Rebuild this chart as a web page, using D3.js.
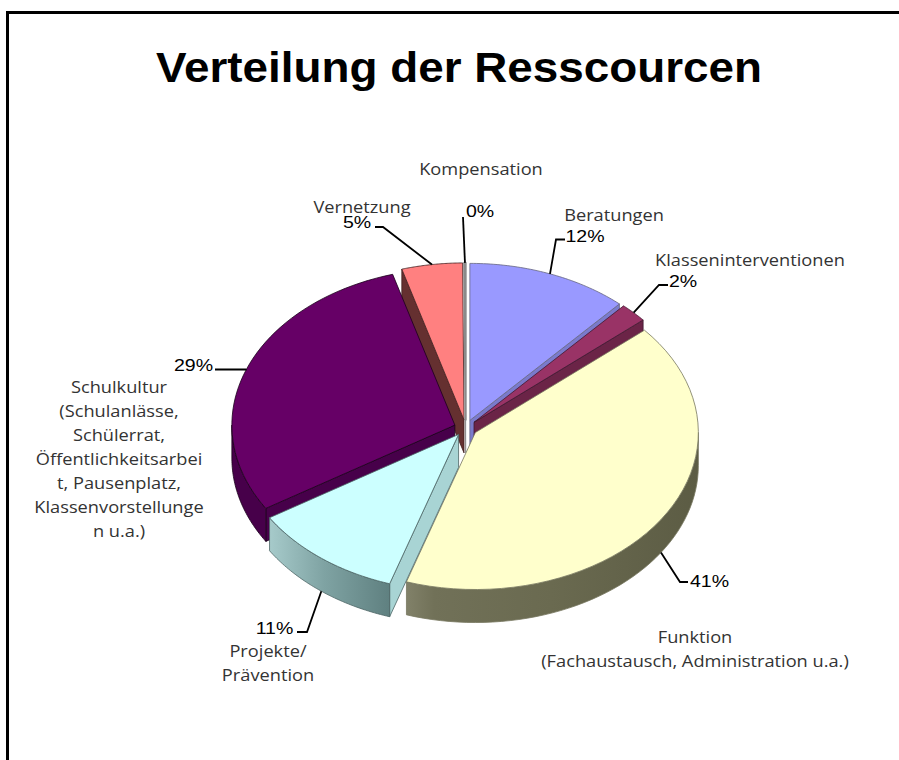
<!DOCTYPE html>
<html><head><meta charset="utf-8">
<script src="https://cdnjs.cloudflare.com/ajax/libs/d3/7.9.0/d3.min.js"></script>
<style>html,body{margin:0;padding:0;background:#fff;overflow:hidden}svg{display:block}</style>
</head><body>
<svg id="chart" width="899" height="760"></svg>
<script>
const title = "Verteilung der Resscourcen";
const categories = ["Beratungen","Klasseninterventionen","Funktion","Projekte","Schulkultur","Vernetzung","Kompensation"];
const values = [11.7, 2.0, 41.3, 11.1, 29.4, 4.4, 0.1];
const percentLabels = ["12%","2%","41%","11%","29%","5%","0%"];
const categoryLines = [
  ["Beratungen"],
  ["Klasseninterventionen"],
  ["Funktion","(Fachaustausch, Administration u.a.)"],
  ["Projekte/","Prävention"],
  ["Schulkultur","(Schulanlässe,","Schülerrat,","Öffentlichkeitsarbei","t, Pausenplatz,","Klassenvorstellunge","n u.a.)"],
  ["Vernetzung"],
  ["Kompensation"]
];
const topColors  = ["#9999ff","#993366","#ffffcc","#ccffff","#660066","#ff8080","#b0b0b0"];
const cutColors  = ["#7a7acc","#6b2447","#6e6e52","#a8d4d4","#47004a","#653030","#808080"];
const rimColors  = ["#6b6bb3","#6b2447","url(#gYellow)","url(#gCyan)","#47004a","#653030","#808080"];
const edgeColors = ["#666680","#401a30","#77775f","#4d6666","#1a001a","#402020","#8a8a8a"];
const drawOrder  = [5,6,4,0,1,2,3];

const cx = 465.7, cy = 428, rx = 223, ry = 157, depth = 33, explode = 0.052;
const sx = d3.scaleLinear().domain([-1,1]).range([cx-rx,cx+rx]);
const sy = d3.scaleLinear().domain([-1,1]).range([cy+ry,cy-ry]);

const svg = d3.select("#chart");
const defs = svg.append("defs");
function grad(id,x1,x2,stops){
  const g = defs.append("linearGradient").attr("id",id).attr("gradientUnits","userSpaceOnUse")
    .attr("x1",x1).attr("x2",x2).attr("y1",0).attr("y2",0);
  stops.forEach(s=>g.append("stop").attr("offset",s[0]).attr("stop-color",s[1]));
}
grad("gYellow",405,698,[[0,"#82826a"],[0.1,"#717158"],[0.5,"#6a6a50"],[1,"#5c5c44"]]);
grad("gCyan",270,390,[[0,"#a6caca"],[0.45,"#7fa3a3"],[1,"#5f8080"]]);

// frame
svg.append("path").attr("d",d3.line()([[7.5,760],[7.5,12.5],[899,12.5]]))
  .attr("fill","none").attr("stroke","#000").attr("stroke-width",3);

const pie = d3.pie().sort(null).value(d=>d).startAngle(0).endAngle(2*Math.PI);
const arcs = pie(values);
const mid = a => (a.startAngle+a.endAngle)/2;
const apex = a => [explode*Math.sin(mid(a)), explode*Math.cos(mid(a))];
const rimU = (a,t) => { const o=apex(a); return [o[0]+Math.sin(t), o[1]+Math.cos(t)]; };
const P = (u,d=0) => [sx(u[0]), sy(u[1])+d];
const line = d3.line();
function rimPts(a,t0,t1,d=0){
  return d3.range(0,49).map(i=>P(rimU(a,t0+(t1-t0)*i/48),d));
}
const g = svg.append("g").attr("stroke-linejoin","round");
function poly(pts,fill,stroke,w){
  g.append("path").attr("d",line(pts)+"Z").attr("fill",fill)
    .attr("stroke",stroke).attr("stroke-width",w);
}
drawOrder.forEach(i=>{
  const a = arcs[i], A = P(apex(a)), w = i===6 ? 2 : 0.8, st = edgeColors[i];
  // cut faces
  if (Math.sin(a.startAngle) < -1e-6) {
    const R = P(rimU(a,a.startAngle));
    poly([A,R,[R[0],R[1]+depth],[A[0],A[1]+depth]],cutColors[i],st,0.8);
  }
  if (Math.sin(a.endAngle) > 1e-6) {
    const R = P(rimU(a,a.endAngle));
    poly([A,R,[R[0],R[1]+depth],[A[0],A[1]+depth]],cutColors[i],st,0.8);
  }
  // outer wall
  const t0 = Math.max(a.startAngle,Math.PI/2), t1 = Math.min(a.endAngle,3*Math.PI/2);
  if (t1>t0) poly(rimPts(a,t0,t1).concat(rimPts(a,t0,t1,depth).reverse()),rimColors[i],st,0.8);
  // top
  poly([A].concat(rimPts(a,a.startAngle,a.endAngle)),topColors[i],st,w);
});

// leader lines: from the rim at the slice's middle angle, through an elbow to the label
const elbows = [[556,239.5,565],[659,285,668],[680,582,688],[307,632,297],[246,369.5,215],[383,227,375],[463,217,463]];
arcs.forEach((a,i)=>{
  const m = mid(a), front = Math.cos(m) < 0;
  const s = P(rimU(a,m), front?depth:0);
  const e = elbows[i];
  svg.append("path").attr("d",line([s,[e[0],e[1]],[e[2],e[1]]]))
    .attr("fill","none").attr("stroke","#000").attr("stroke-width",1.8);
});

// percentage labels
const pctPos = [[585,242],[683,287],[709.5,587],[274.5,634],[193.5,371],[357,228],[480,217]];
percentLabels.forEach((t,i)=>{
  svg.append("text").text(t)
    .attr("transform",`translate(${pctPos[i][0]},${pctPos[i][1]}) scale(1.15,1)`)
    .attr("text-anchor","middle").attr("font-family","'Liberation Sans',Arial,sans-serif")
    .attr("font-size",17).attr("fill","#000");
});

// category labels
const catPos = [[614,221],[750,266],[695,643],[268,657],[119,393],[362,213],[481,175]];
const catLead = 24;
categoryLines.forEach((ls,i)=>{
  ls.forEach((t,j)=>{
    svg.append("text").text(t)
      .attr("transform",`translate(${catPos[i][0]},${catPos[i][1]+j*catLead}) scale(1.14,1)`)
      .attr("text-anchor","middle").attr("font-family","'Open Sans',sans-serif")
      .attr("font-size",16).attr("fill","#333");
  });
});

// title
svg.append("text").text(title).attr("x",156).attr("y",82)
  .attr("textLength",606).attr("lengthAdjust","spacingAndGlyphs")
  .attr("font-family","'Liberation Sans',Arial,sans-serif").attr("font-weight","bold")
  .attr("font-size",43).attr("fill","#000");
</script>
</body></html>
